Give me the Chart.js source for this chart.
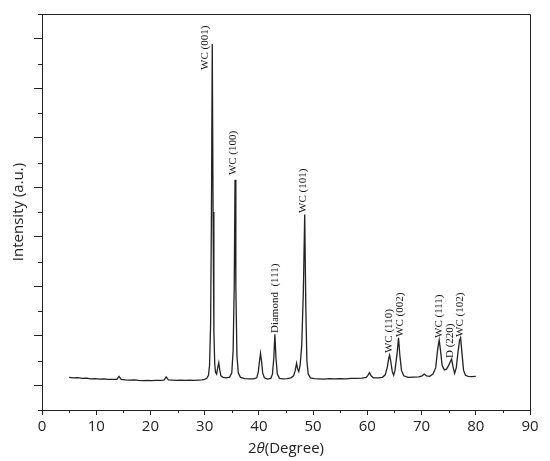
<!DOCTYPE html>
<html>
<head>
<meta charset="utf-8">
<script src="https://cdn.jsdelivr.net/npm/chart.js@4.4.0/dist/chart.umd.min.js"></script>
<style>
  html, body { margin: 0; padding: 0; background: #fff; }
  #wrap { width: 550px; height: 461px; }
</style>
</head>
<body>
<div id="wrap"><canvas id="xrd" width="550" height="461"></canvas></div>
<script>
// 2theta positions (degrees)
const twoTheta = [
  5.0, 5.8, 6.6, 7.4, 8.2, 9.0, 9.8, 10.6, 11.4, 12.2, 13.0, 13.8, 14.2, 14.6,
  15.4, 16.2, 17.0, 17.8, 18.6, 19.4, 20.2, 21.0, 21.8, 22.5, 22.9, 23.3,
  24.0, 24.8, 25.6, 26.4, 27.2, 28.0, 28.8, 29.5, 30.0, 30.4, 30.7, 30.9,
  31.1, 31.25, 31.4, 31.55, 31.7, 31.85, 32.0, 32.2, 32.4, 32.6, 32.8, 33.0,
  33.4, 34.0, 34.6, 35.0, 35.25, 35.45, 35.6, 35.75, 35.95, 36.2, 36.6,
  37.4, 38.2, 39.0, 39.6, 39.9, 40.1, 40.3, 40.5, 40.7, 41.0, 41.6, 42.2,
  42.5, 42.75, 42.95, 43.15, 43.4, 43.8, 44.5, 45.2, 45.9, 46.4, 46.7, 46.95,
  47.15, 47.35, 47.6, 47.9, 48.2, 48.45, 48.65, 48.85, 49.1, 49.5, 50.2, 51.0,
  52.0, 53.0, 54.0, 55.0, 56.0, 57.0, 58.0, 59.0, 59.8, 60.1, 60.4, 60.7,
  61.1, 62.0, 62.8, 63.3, 63.7, 63.95, 64.1, 64.3, 64.6, 64.85, 65.1, 65.5,
  65.75, 66.0, 66.3, 66.7, 67.5, 68.5, 69.5, 70.1, 70.5, 70.9, 71.5, 72.1,
  72.6, 73.0, 73.25, 73.5, 73.8, 74.2, 74.6, 75.0, 75.3, 75.54, 75.8, 76.1,
  76.4, 76.7, 77.0, 77.2, 77.45, 77.75, 78.1, 78.6, 79.2, 80.0
];

// intensity (a.u.), same order as twoTheta
const intensity = [
  1.32, 1.30, 1.31, 1.28, 1.29, 1.26, 1.27, 1.25, 1.26, 1.24, 1.24, 1.24, 1.36, 1.24,
  1.22, 1.21, 1.22, 1.20, 1.19, 1.20, 1.19, 1.20, 1.20, 1.21, 1.34, 1.22,
  1.21, 1.20, 1.21, 1.20, 1.21, 1.20, 1.21, 1.22, 1.24, 1.28, 1.40, 1.80,
  3.50, 8.00, 14.79, 8.00, 3.20, 1.90, 1.52, 1.45, 1.70, 1.91, 1.60, 1.38,
  1.32, 1.30, 1.33, 1.50, 2.40, 5.00, 9.30, 5.00, 2.20, 1.50, 1.32,
  1.27, 1.26, 1.26, 1.30, 1.55, 1.95, 2.29, 1.95, 1.50, 1.30, 1.25, 1.28,
  1.45, 2.10, 3.06, 2.10, 1.45, 1.28, 1.26, 1.27, 1.30, 1.38, 1.60, 1.89,
  1.65, 1.55, 1.80, 2.60, 4.80, 7.90, 4.20, 2.00, 1.45, 1.30, 1.27, 1.26,
  1.25, 1.27, 1.26, 1.27, 1.26, 1.28, 1.28, 1.29, 1.32, 1.40, 1.51, 1.38,
  1.30, 1.30, 1.32, 1.42, 1.75, 2.10, 2.22, 2.00, 1.55, 1.41, 1.60, 2.30,
  2.92, 2.20, 1.60, 1.38, 1.32, 1.33, 1.34, 1.38, 1.45, 1.38, 1.36, 1.45,
  1.70, 2.50, 2.83, 2.40, 1.80, 1.62, 1.65, 1.80, 1.95, 2.06, 1.75, 1.48,
  1.70, 2.30, 2.80, 2.92, 2.30, 1.60, 1.40, 1.36, 1.35, 1.36
];

// peak labels: text, 2theta of the label, intensity where the label starts
const peakNames = ['WC (001)', 'WC (100)', 'Diamond  (111)', 'WC (101)', 'WC (110)', 'WC (002)', 'WC (111)', 'D (220)', 'WC (102)'];
const peakLabelX = [30.0, 35.2, 42.9, 48.1, 64.0, 66.0, 73.25, 75.35, 77.2];
const peakLabelY = [13.74, 9.49, 3.11, 7.96, 2.30, 2.95, 2.91, 2.10, 2.95];

const xTicks = [0, 10, 20, 30, 40, 50, 60, 70, 80, 90];

const points = twoTheta.map((t, i) => ({ x: t, y: intensity[i] }));
const ink = '#222';

// minor ticks, top/right frame, peak labels and x title
const extras = {
  id: 'extras',
  afterDraw(chart) {
    const ctx = chart.ctx;
    const area = chart.chartArea;
    const xs = chart.scales.x;
    const ys = chart.scales.y;
    ctx.save();
    ctx.strokeStyle = ink;
    ctx.lineWidth = 1;
    // frame
    ctx.beginPath();
    ctx.moveTo(Math.round(area.left) + 0.5, Math.round(area.top) + 0.5);
    ctx.lineTo(Math.round(area.right) + 0.5, Math.round(area.top) + 0.5);
    ctx.lineTo(Math.round(area.right) + 0.5, Math.round(area.bottom) + 0.5);
    ctx.stroke();
    // minor x ticks
    ctx.beginPath();
    for (let v = 5; v < 90; v += 10) {
      const px = Math.round(xs.getPixelForValue(v)) + 0.5;
      ctx.moveTo(px, area.bottom);
      ctx.lineTo(px, area.bottom + 3);
    }
    // minor y ticks
    for (let v = 0; v <= 16; v += 2) {
      const py = Math.round(ys.getPixelForValue(v)) + 0.5;
      ctx.moveTo(area.left - 4, py);
      ctx.lineTo(area.left, py);
    }
    ctx.stroke();

    // peak labels
    ctx.fillStyle = '#111';
    ctx.font = '11px "Liberation Serif"';
    ctx.textAlign = 'left';
    ctx.textBaseline = 'middle';
    peakNames.forEach((name, i) => {
      ctx.save();
      ctx.translate(xs.getPixelForValue(peakLabelX[i]), ys.getPixelForValue(peakLabelY[i]));
      ctx.rotate(-Math.PI / 2);
      ctx.fillText(name, 0, 0);
      ctx.restore();
    });

    // x axis title with italic theta
    const parts = [['2', 'normal'], ['\u03b8', 'italic'], ['(Degree)', 'normal']];
    let total = 0;
    parts.forEach(p => {
      ctx.font = p[1] + ' 15px "Open Sans"';
      total += ctx.measureText(p[0]).width;
    });
    let x = (area.left + area.right) / 2 - total / 2;
    ctx.fillStyle = ink;
    parts.forEach(p => {
      ctx.font = p[1] + ' 15px "Open Sans"';
      ctx.fillText(p[0], x, 449);
      x += ctx.measureText(p[0]).width;
    });
    ctx.restore();
  }
};

new Chart(document.getElementById('xrd'), {
  type: 'line',
  data: {
    datasets: [{
      data: points,
      borderColor: ink,
      borderWidth: 1.3,
      pointRadius: 0,
      tension: 0,
      fill: false
    }]
  },
  options: {
    responsive: false,
    animation: false,
    layout: { padding: { left: 0, right: 20, top: 14, bottom: 0 } },
    plugins: { legend: { display: false }, tooltip: { enabled: false } },
    scales: {
      x: {
        type: 'linear',
        min: 0,
        max: 90,
        afterFit: s => { s.height = 51; },
        afterBuildTicks: s => { s.ticks = xTicks.map(v => ({ value: v })); },
        grid: { drawOnChartArea: false, drawTicks: true, tickLength: 5, tickColor: ink },
        border: { color: ink, width: 1 },
        ticks: { color: ink, font: { family: 'Open Sans', size: 15 }, padding: 3, maxRotation: 0 }
      },
      y: {
        min: 0,
        max: 16,
        afterFit: s => { s.width = 42; },
        afterBuildTicks: s => {
          const t = [];
          for (let v = 1; v < 16; v += 2) t.push({ value: v });
          s.ticks = t;
        },
        grid: { drawOnChartArea: false, drawTicks: true, tickLength: 8, tickColor: ink },
        border: { color: ink, width: 1 },
        ticks: { display: false },
        title: {
          display: true,
          text: 'Intensity (a.u.)',
          color: ink,
          font: { family: 'Open Sans', size: 15 },
          padding: { top: 10, bottom: 0 }
        }
      }
    }
  },
  plugins: [extras]
});
</script>
</body>
</html>
